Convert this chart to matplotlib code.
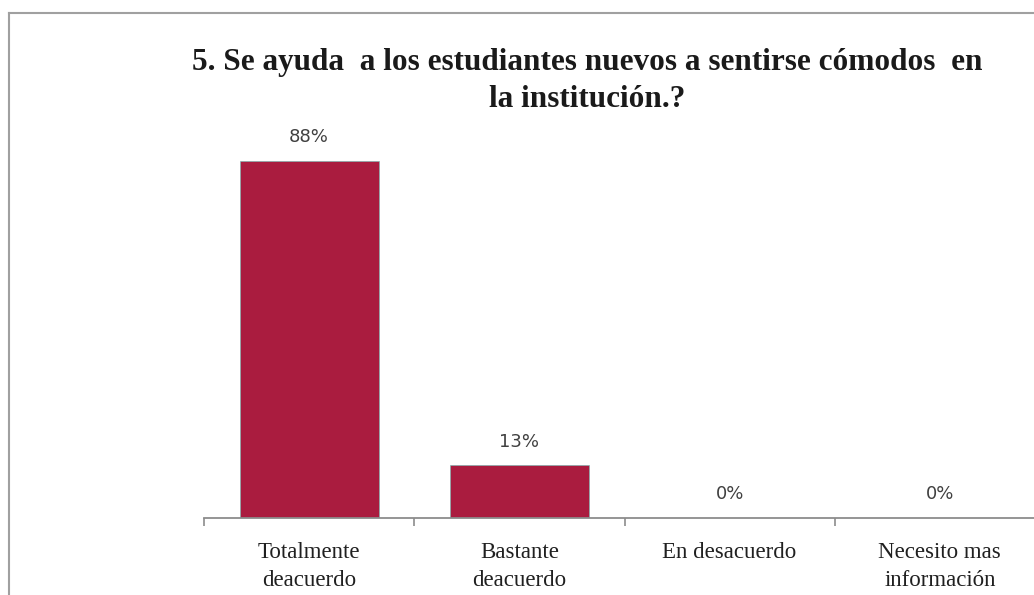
import matplotlib.pyplot as plt
import numpy as np
from matplotlib.lines import Line2D

categories = ["Totalmente\ndeacuerdo", "Bastante\ndeacuerdo", "En desacuerdo", "Necesito mas\ninformación"]
values = [88, 13, 0, 0]
labels = ["88%", "13%", "0%", "0%"]
title = "5. Se ayuda  a los estudiantes nuevos a sentirse cómodos  en\nla institución.?"

W, H = 1034, 595
fig = plt.figure(figsize=(W / 100, H / 100), dpi=100)

# outer border (cut by the image edge on right and bottom)
fig.add_artist(Line2D([9 / W, 9 / W], [-0.1, 1 - 13 / H], color="#a0a0a0", lw=1.5))
fig.add_artist(Line2D([9 / W, 1.1], [1 - 13 / H, 1 - 13 / H], color="#a0a0a0", lw=1.5))

# axes spans past the right edge, like the screenshot
left, right = 204 / W, 1045 / W
bottom = 1 - 518 / H
top_px = 518 - 100 * 357 / 88
ax = fig.add_axes([left, bottom, right - left, (518 - top_px) / H])

x = np.arange(len(categories))
ax.bar(x, values, width=0.66, color="#aa1c3f", edgecolor="#6fb8b0", linewidth=0.4)
ax.set_xlim(-0.5, 3.5)
ax.set_ylim(0, 100)

for xi, v, lab in zip(x, values, labels):
    ax.annotate(lab, (xi, v), xytext=(0, 17), textcoords="offset points",
                ha="center", va="center", fontsize=13, color="#404040",
                family="DejaVu Sans")

for s in ["top", "right", "left"]:
    ax.spines[s].set_visible(False)
ax.spines["bottom"].set_color("#8c8c8c")
ax.spines["bottom"].set_linewidth(1.3)
ax.set_yticks([])

ax.set_xticks(x)
ax.set_xticklabels(categories, family="Liberation Serif", fontsize=16.5,
                   color="#202020", linespacing=1.45)
ax.set_xticks(np.arange(-0.5, 4.0, 1.0), minor=True)
ax.tick_params(axis="x", which="major", length=0, pad=17)
ax.tick_params(axis="x", which="minor", length=6, width=1.2, color="#8c8c8c", direction="out")

fig.text(587 / W, 1 - 81 / H, title, ha="center", va="center",
         family="Liberation Serif", fontweight="bold", fontsize=22.5,
         color="#1a1a1a", linespacing=1.35)

fig.savefig("out.png", dpi=100)
